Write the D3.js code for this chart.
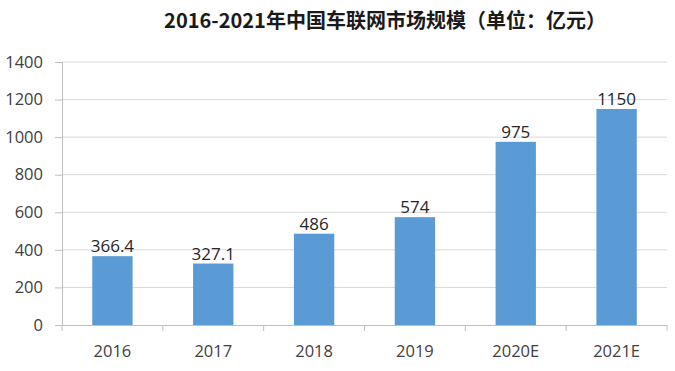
<!DOCTYPE html>
<html>
<head>
<meta charset="utf-8">
<script src="https://cdn.jsdelivr.net/npm/d3@7"></script>
<style>
  body { margin: 0; background: #fff; }
  svg { display: block; }
  .tick text { font-family: "Open Sans", "Liberation Sans", sans-serif; font-size: 16.5px; fill: #404040; }
</style>
</head>
<body>
<svg id="chart" width="675" height="371"></svg>
<script>
// data
var years = ["2016", "2017", "2018", "2019", "2020E", "2021E"];
var values = [366.4, 327.1, 486, 574, 975, 1150];
var labels = ["366.4", "327.1", "486", "574", "975", "1150"];
var yTicks = [0, 200, 400, 600, 800, 1000, 1200, 1400];

var svg = d3.select("#chart");

var margin = {left: 62, right: 8, top: 62, bottom: 46},
    width = 675 - margin.left - margin.right,
    height = 371 - margin.top - margin.bottom;

var g = svg.append("g").attr("transform", "translate(" + margin.left + "," + margin.top + ")");

var x = d3.scaleBand().domain(years).range([0, width]).paddingInner(0.6).paddingOuter(0.3);
var xEdge = d3.scaleLinear().domain([0, years.length]).range([0, width]);
var y = d3.scaleLinear().domain([0, 1400]).range([height, 0]);

// title
svg.append("text")
  .attr("x", 385)
  .attr("y", 28)
  .attr("text-anchor", "middle")
  .style("font-family", "'Noto Sans CJK SC', sans-serif")
  .style("font-weight", "bold")
  .style("font-size", "20px")
  .style("fill", "#1a1a1a")
  .text("2016-2021年中国车联网市场规模（单位：亿元）");

// gridlines
g.selectAll("line.grid")
  .data(yTicks.filter(d => d > 0))
  .enter().append("line")
  .attr("class", "grid")
  .attr("x1", 0).attr("x2", width)
  .attr("y1", d => y(d)).attr("y2", d => y(d))
  .style("stroke", "#d9d9d9")
  .style("stroke-width", 1);

// y axis
var yAxis = g.append("g")
  .call(d3.axisLeft(y).tickValues(yTicks).tickFormat(d3.format("d")).tickSize(7).tickPadding(12));
yAxis.select(".domain").style("stroke", "#bfbfbf");
yAxis.selectAll(".tick line").style("stroke", "#bfbfbf");

// x axis
var xAxis = g.append("g")
  .attr("transform", "translate(0," + height + ")")
  .call(d3.axisBottom(x).tickSize(0).tickPadding(20));
xAxis.select(".domain").style("stroke", "#bfbfbf");

g.selectAll("line.xtick")
  .data(d3.range(years.length + 1))
  .enter().append("line")
  .attr("class", "xtick")
  .attr("x1", d => xEdge(d)).attr("x2", d => xEdge(d))
  .attr("y1", height).attr("y2", height + 6)
  .style("stroke", "#bfbfbf");

// bars
g.selectAll("rect.bar")
  .data(values)
  .enter().append("rect")
  .attr("class", "bar")
  .attr("x", (d, i) => x(years[i]))
  .attr("width", x.bandwidth())
  .attr("y", d => y(d))
  .attr("height", d => height - y(d))
  .style("fill", "#5b9bd5");

// value labels
g.selectAll("text.val")
  .data(values)
  .enter().append("text")
  .attr("class", "val")
  .attr("x", (d, i) => x(years[i]) + x.bandwidth() / 2)
  .attr("y", d => y(d) - 4)
  .attr("text-anchor", "middle")
  .style("font-family", "'Open Sans', 'Liberation Sans', sans-serif")
  .style("font-size", "17px")
  .style("fill", "#262626")
  .text((d, i) => labels[i]);
</script>
</body>
</html>
